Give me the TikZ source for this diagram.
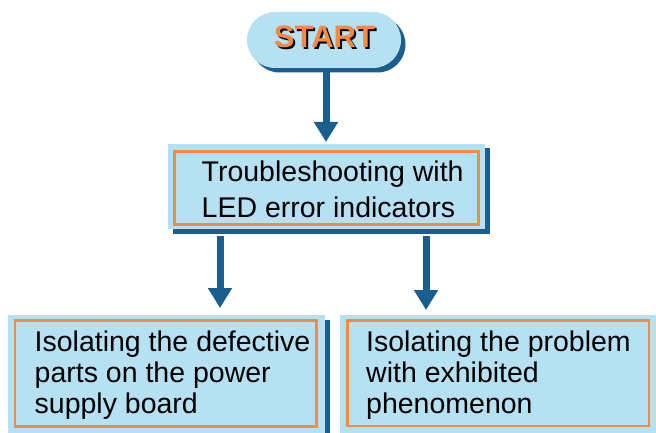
\documentclass[tikz,border=0pt]{standalone}
\usepackage{fontspec}
\setmainfont{Liberation Sans}
\usetikzlibrary{arrows.meta,shadows,calc}
\definecolor{lightblue}{RGB}{181,225,243}
\definecolor{darkblue}{RGB}{25,94,142}
\definecolor{orangec}{RGB}{247,137,65}
\tikzset{
  lb/.style={fill=lightblue, draw=none, inner sep=0pt, outer sep=0pt},
  boxshadow/.style={general shadow={fill=darkblue, shadow xshift=4.5pt, shadow yshift=-4.5pt}},
  frame/.style={draw=orangec, line width=2.8pt},
  txtmid/.style={font=\fontsize{28.5}{36}\selectfont, align=left, inner sep=0pt, anchor=north west},
  txtlow/.style={font=\fontsize{28.5}{31}\selectfont, align=left, inner sep=0pt, anchor=north west},
  starttxt/.style={font=\fontsize{31}{31}\selectfont\bfseries, inner sep=0pt, anchor=base},
  arr/.style={draw=darkblue, line width=7pt, -{Triangle[width=23pt,length=20pt]}},
}
\newcommand{\shadowword}[1]{\makebox[0pt][l]{\hspace{2pt}\raisebox{-2pt}{\textcolor{black}{#1}}}\textcolor{orangec}{#1}}
\begin{document}
\begin{tikzpicture}[x=1pt,y=-1pt]
\useasboundingbox (0,0) rectangle (656,433);
% START pill
\node[lb, boxshadow, rounded corners=28pt, minimum width=154pt, minimum height=56pt] (start) at (324,40) {};
\node[starttxt] (starttx) at (324.5,48) {\shadowword{START}};
% middle box
\node[lb, boxshadow, minimum width=317pt, minimum height=85pt] (mid) at (326.5,186.5) {};
\coordinate (midfa) at ($(mid.north west)+(6.5,7.3)$);
\coordinate (midfb) at ($(mid.south east)+(-6.7,-4.3)$);
\draw[frame] (midfa) rectangle (midfb);
\node[txtmid] (midtx) at (201.5,161) {Troubleshooting with\\LED error indicators};
% bottom-left box
\node[lb, boxshadow, minimum width=317pt, minimum height=118pt] (bl) at (166.5,374) {};
\coordinate (blfa) at ($(bl.north west)+(7,5.7)$);
\coordinate (blfb) at ($(bl.south east)+(-8.3,-6.3)$);
\draw[frame] (blfa) rectangle (blfb);
\node[txtlow] (bltx) at (34.5,330.5) {Isolating the defective\\parts on the power\\supply board};
% bottom-right box
\node[lb, boxshadow, minimum width=316pt, minimum height=118pt] (br) at (498,374) {};
\coordinate (brfa) at ($(br.north west)+(7.3,5.7)$);
\coordinate (brfb) at ($(br.south east)+(-7,-7)$);
\draw[frame] (brfa) rectangle (brfb);
\node[txtlow] (brtx) at (366,330.5) {Isolating the problem\\with exhibited\\phenomenon};
% arrows
\coordinate (a1s) at ($(start.south)+(2,0)$);
\draw[arr] (a1s) -- ($(a1s |- mid.north)+(0,-2)$);
\coordinate (a2s) at ($(mid.south west)+(52,7)$);
\draw[arr] (a2s) -- ($(a2s |- bl.north)+(0,-7)$);
\coordinate (a3s) at ($(mid.south west)+(258,7)$);
\draw[arr] (a3s) -- ($(a3s |- br.north)+(0,-5)$);
\end{tikzpicture}
\end{document}
